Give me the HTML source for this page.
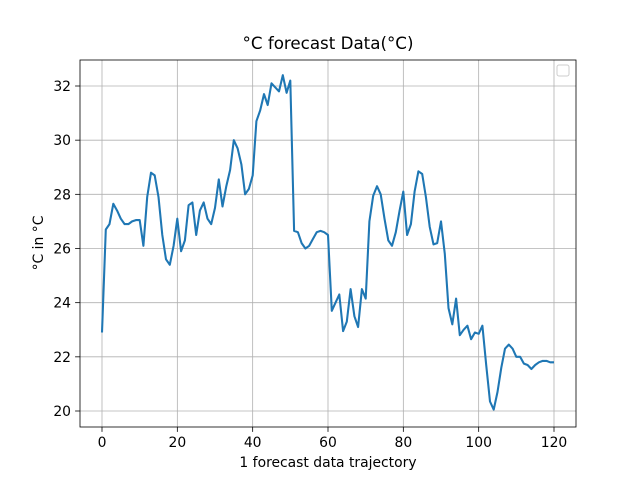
<!DOCTYPE html>
<html><head><meta charset="utf-8"><style>body{margin:0;background:#fff}svg text{font-family:"DejaVu Sans","Liberation Sans",sans-serif;fill:#000}</style></head>
<body>
<svg id="chart" width="640" height="480" xmlns="http://www.w3.org/2000/svg">
<rect width="640" height="480" fill="#fff"/>
<g id="grid"></g>
<path id="line" fill="none" stroke="#1f77b4" stroke-width="2.08" stroke-linejoin="round"/>
<rect x="80" y="60" width="496" height="367" fill="none" stroke="#000" stroke-width="0.8"/>
<g id="ticks"></g>
<rect x="557" y="65" width="12" height="11" rx="2" fill="#fff" stroke="#ccc"/>
<text x="328" y="49" font-size="16.7" text-anchor="middle">°C forecast Data(°C)</text>
<text x="328" y="467" font-size="13.9" text-anchor="middle">1 forecast data trajectory</text>
<text transform="translate(43,243) rotate(-90)" font-size="13.9" text-anchor="middle">°C in °C</text>
</svg>
<script>
const values=[22.9,26.7,26.9,27.65,27.4,27.1,26.9,26.9,27.0,27.05,27.05,26.1,27.9,28.8,28.7,27.9,26.5,25.6,25.4,26.1,27.1,25.9,26.3,27.6,27.7,26.5,27.4,27.7,27.1,26.9,27.5,28.55,27.55,28.3,28.9,30.0,29.7,29.1,28.0,28.2,28.7,30.7,31.1,31.7,31.3,32.1,31.95,31.8,32.4,31.75,32.2,26.65,26.6,26.2,26.0,26.1,26.35,26.6,26.65,26.6,26.5,23.7,24.0,24.3,22.95,23.3,24.5,23.5,23.1,24.5,24.15,27.0,27.95,28.3,28.0,27.1,26.3,26.1,26.6,27.4,28.1,26.5,26.9,28.1,28.85,28.75,27.9,26.8,26.15,26.2,27.0,25.8,23.8,23.2,24.15,22.8,23.0,23.15,22.65,22.9,22.85,23.15,21.7,20.35,20.05,20.7,21.6,22.3,22.45,22.3,22.0,22.0,21.75,21.7,21.55,21.7,21.8,21.85,21.85,21.8,21.8];
const xTicks=[0,20,40,60,80,100,120];
const yTicks=[20,22,24,26,28,30,32];
const X=v=>102+v*(452/120), Y=v=>411-(v-20)*(325/12);
const NS="http://www.w3.org/2000/svg";
const grid=document.getElementById('grid'), ticks=document.getElementById('ticks');
function mk(p,tag,a){const e=document.createElementNS(NS,tag);for(const k in a)e.setAttribute(k,a[k]);p.appendChild(e);return e;}
xTicks.forEach(t=>{const x=X(t);
const g=mk(grid,'line',{x1:x,x2:x,y1:60,y2:427,stroke:'#b0b0b0','stroke-width':0.8});


mk(ticks,'line',{x1:x,x2:x,y1:427,y2:431.9,stroke:'#000','stroke-width':0.8});
const tx=mk(ticks,'text',{x:x,y:447,'font-size':13.9,'text-anchor':'middle'});tx.textContent=t;

});
yTicks.forEach(t=>{const y=Y(t);
const g=mk(grid,'line',{x1:80,x2:576,y1:y,y2:y,stroke:'#b0b0b0','stroke-width':0.8});


mk(ticks,'line',{x1:75.1,x2:80,y1:y,y2:y,stroke:'#000','stroke-width':0.8});
const tx=mk(ticks,'text',{x:71,y:y+5,'font-size':13.9,'text-anchor':'end'});tx.textContent=t;

});
document.getElementById('line').setAttribute('d',values.map((v,i)=>(i?'L':'M')+X(i).toFixed(1)+','+Y(v).toFixed(1)).join(''));
</script>
</body></html>
